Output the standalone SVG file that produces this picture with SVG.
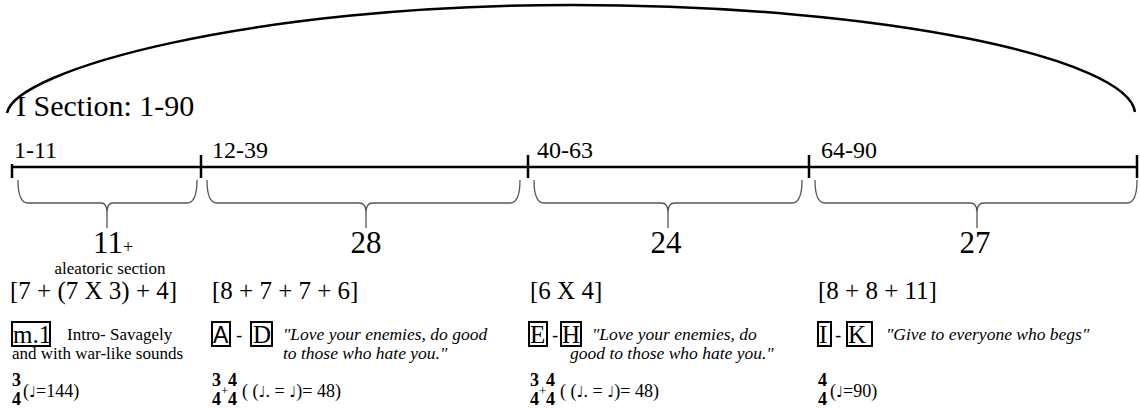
<svg xmlns="http://www.w3.org/2000/svg" width="1140" height="413" viewBox="0 0 1140 413">
<style>
text{font-family:"Liberation Serif","Times New Roman",serif;fill:#000}
.rng{font-size:24px}
.num{font-size:31px}
.br{font-size:25px}
.sm{font-size:17px}
.it{font-size:17.5px;font-style:italic}
.box{fill:none;stroke:#000;stroke-width:2}
.lbl{font-size:25px}
.sans{font-family:"Liberation Sans",Arial,sans-serif}
.ts{font-size:18px;font-weight:bold}
.tp{font-size:18px}
.note{font-family:"DejaVu Sans",sans-serif;font-size:15px}
.brace{fill:none;stroke:#555;stroke-width:1.3}
</style>
<g id="arc"><path d="M7,113 C15,70 250,5 571,5 S1128,60 1135,112" fill="none" stroke="#000" stroke-width="2.5"/></g>
<g id="title"><text x="16" y="116" style="font-size:30px">I Section: 1-90</text></g>
<g id="connectors">
<line x1="11" y1="167" x2="1136" y2="167" stroke="#000" stroke-width="2.5"/>
<line x1="12" y1="164" x2="12" y2="178" stroke="#000" stroke-width="2.5"/>
<line x1="201" y1="155" x2="201" y2="178" stroke="#000" stroke-width="2.5"/>
<line x1="528" y1="155" x2="528" y2="178" stroke="#000" stroke-width="2.5"/>
<line x1="809" y1="155" x2="809" y2="178" stroke="#000" stroke-width="2.5"/>
<line x1="1137" y1="155" x2="1137" y2="178" stroke="#000" stroke-width="2.5"/>
</g>
<g id="seg1">
<text class="rng" x="14" y="158">1-11</text>
<path class="brace" d="M18,180 Q18,203 28,203 L101,203 Q107,203 107,212 L107,228 M107,212 Q107,203 113,203 L187,203 Q197,203 197,180"/>
<text class="num" x="108" y="253" text-anchor="middle">11</text>
<text x="123" y="253" style="font-size:18px">+</text>
<text class="sm" x="110" y="274" text-anchor="middle">aleatoric section</text>
<text class="br" x="10" y="299">[7 + (7 X 3) + 4]</text>
<rect class="box" x="12" y="322" width="38" height="24"/>
<text class="lbl" x="13" y="343">m.1</text>
<text class="sm" x="67" y="340">Intro- Savagely</text>
<text class="sm" x="12" y="359">and with war-like sounds</text>
<text class="ts" x="12" y="386">3</text>
<text class="ts" x="12" y="405">4</text>
<text class="tp" x="23" y="397">(<tspan class="note">♩</tspan>=144)</text>
</g>
<g id="seg2">
<text class="rng" x="212" y="158">12-39</text>
<path class="brace" d="M207,180 Q207,203 217,203 L359,203 Q366,203 366,212 L366,228 M366,212 Q366,203 373,203 L510,203 Q520,203 520,180"/>
<text class="num" x="366" y="253" text-anchor="middle">28</text>
<text class="br" x="212" y="299">[8 + 7 + 7 + 6]</text>
<rect class="box" x="212" y="322" width="18" height="24"/>
<text class="sans" x="213" y="343" style="font-size:23px">A</text>
<text class="sans" x="236" y="342" style="font-size:19px">-</text>
<rect class="box" x="251" y="322" width="21" height="24"/>
<text class="lbl" x="253" y="343">D</text>
<text class="it" x="283" y="340">"Love your enemies, do good</text>
<text class="it" x="283" y="359">to those who hate you."</text>
<text class="ts" x="212" y="386">3</text>
<text class="ts" x="212" y="405">4</text>
<text x="221" y="395" style="font-size:13px">+</text>
<text class="ts" x="228" y="386">4</text>
<text class="ts" x="228" y="405">4</text>
<text class="tp" x="242" y="397">( (<tspan class="note">♩</tspan>. = <tspan class="note">♩</tspan>)= 48)</text>
</g>
<g id="seg3">
<text class="rng" x="537" y="158">40-63</text>
<path class="brace" d="M534,180 Q534,203 544,203 L661,203 Q668,203 668,212 L668,228 M668,212 Q668,203 675,203 L792,203 Q802,203 802,180"/>
<text class="num" x="666" y="253" text-anchor="middle">24</text>
<text class="br" x="530" y="299">[6 X 4]</text>
<rect class="box" x="529" y="322" width="18" height="24"/>
<text class="lbl" x="530" y="343">E</text>
<text class="sans" x="552" y="342" style="font-size:19px">-</text>
<rect class="box" x="561" y="322" width="20" height="24"/>
<text class="lbl" x="562" y="343">H</text>
<text class="it" x="592" y="340">"Love your enemies, do</text>
<text class="it" x="570" y="359">good to those who hate you."</text>
<text class="ts" x="530" y="386">3</text>
<text class="ts" x="530" y="405">4</text>
<text x="539" y="395" style="font-size:13px">+</text>
<text class="ts" x="546" y="386">4</text>
<text class="ts" x="546" y="405">4</text>
<text class="tp" x="560" y="397">( (<tspan class="note">♩</tspan>. = <tspan class="note">♩</tspan>)= 48)</text>
</g>
<g id="seg4">
<text class="rng" x="821" y="158">64-90</text>
<path class="brace" d="M815,180 Q815,203 825,203 L970,203 Q977,203 977,212 L977,228 M977,212 Q977,203 984,203 L1127,203 Q1137,203 1137,180"/>
<text class="num" x="975" y="253" text-anchor="middle">27</text>
<text class="br" x="818" y="299">[8 + 8 + 11]</text>
<rect class="box" x="818" y="322" width="13" height="24"/>
<text class="lbl" x="819" y="343">I</text>
<text class="sans" x="835" y="342" style="font-size:19px">-</text>
<rect class="box" x="847" y="322" width="25" height="24"/>
<text class="lbl" x="848" y="343">K</text>
<text class="it" x="886" y="340">"Give to everyone who begs"</text>
<text class="ts" x="818" y="386">4</text>
<text class="ts" x="818" y="405">4</text>
<text class="tp" x="830" y="397">(<tspan class="note">♩</tspan>=90)</text>
</g>
</svg>
